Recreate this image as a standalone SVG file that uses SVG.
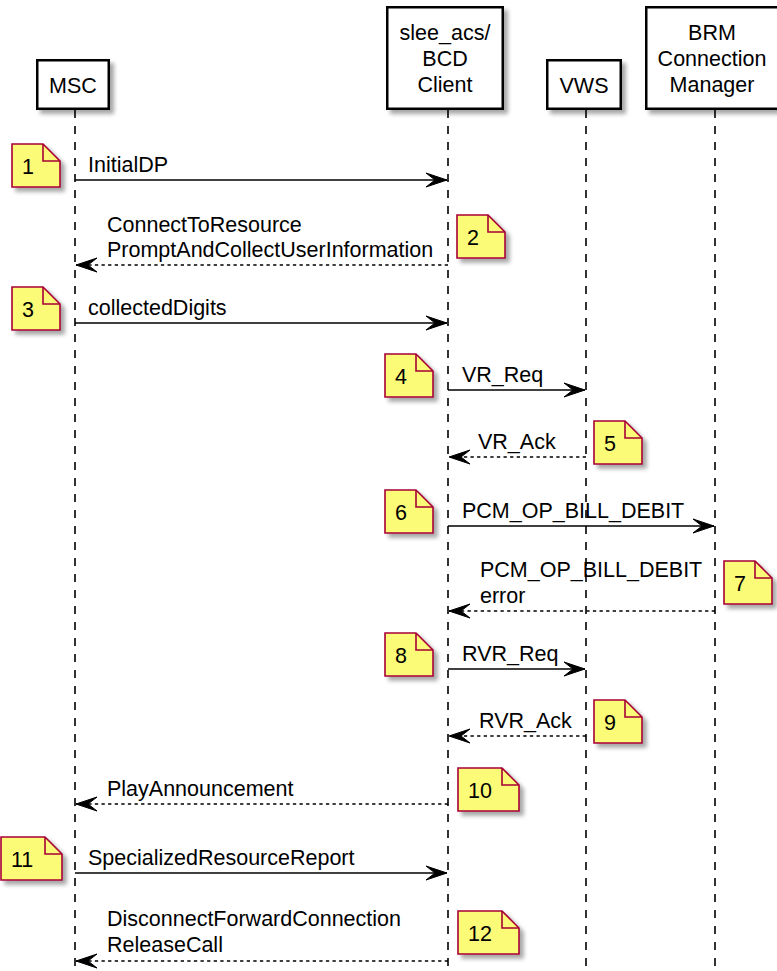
<svg xmlns="http://www.w3.org/2000/svg" width="777" height="971" viewBox="0 0 777 971">
<defs>
<filter id="sh" x="-20%" y="-20%" width="150%" height="150%">
<feGaussianBlur in="SourceAlpha" stdDeviation="2"/>
<feOffset dx="4" dy="4" result="o"/>
<feComponentTransfer><feFuncA type="linear" slope="0.35"/></feComponentTransfer>
<feMerge><feMergeNode/><feMergeNode in="SourceGraphic"/></feMerge>
</filter>
<marker id="ah" viewBox="-23 -8 24 16" refX="0" refY="0" markerWidth="24" markerHeight="16" markerUnits="userSpaceOnUse" orient="auto">
<path d="M0,0 L-21,-7 L-12,0 L-21,7 Z" fill="#000" stroke="#000" stroke-width="1" stroke-linejoin="miter"/>
</marker>
</defs>
<style>
text{font-family:"Liberation Sans",Arial,sans-serif;font-size:21.5px;fill:#000}
.box{fill:#fff;stroke:#000;stroke-width:2.5}
.pt{text-anchor:middle}
.life{stroke:#000;stroke-width:1.6;stroke-dasharray:8,8;fill:none}
.msg{stroke:#000;stroke-width:1.6;fill:none;marker-end:url(#ah)}
.ret{stroke-dasharray:3.3,3.3}
.note{fill:#FBFB77;stroke:#A80036;stroke-width:1.6;stroke-linejoin:miter}
.fold{fill:none;stroke:#A80036;stroke-width:1.6}
</style>
<rect width="777" height="971" fill="#fff"/>
<g id="lifelines">
<line class="life" x1="75" y1="110" x2="75" y2="971"/>
<line class="life" x1="448" y1="110" x2="448" y2="971"/>
<line class="life" x1="586" y1="110" x2="586" y2="971"/>
<line class="life" x1="715" y1="110" x2="715" y2="971"/>
</g>
<g id="MSC">
<rect class="box" x="37.25" y="60.25" width="71.5" height="48.5" filter="url(#sh)"/>
<text class="pt" x="73" y="92.5">MSC</text>
</g>
<g id="slee_acs">
<rect class="box" x="387.25" y="7.25" width="115.5" height="101.5" filter="url(#sh)"/>
<text class="pt" x="445" y="40">slee_acs/</text>
<text class="pt" x="445" y="66">BCD</text>
<text class="pt" x="445" y="92">Client</text>
</g>
<g id="VWS">
<rect class="box" x="547.25" y="60.25" width="73.5" height="48.5" filter="url(#sh)"/>
<text class="pt" x="584" y="92.5">VWS</text>
</g>
<g id="BRM">
<rect class="box" x="646.25" y="7.25" width="132" height="101.5" filter="url(#sh)"/>
<text class="pt" x="712" y="40">BRM</text>
<text class="pt" x="712" y="66">Connection</text>
<text class="pt" x="712" y="92">Manager</text>
</g>
<g id="connectors">
<line class="msg" x1="75" y1="180" x2="447" y2="180"/>
<text x="88" y="172">InitialDP</text>
<line class="msg ret" x1="448" y1="265" x2="76" y2="265"/>
<text x="107" y="232">ConnectToResource</text>
<text x="107" y="257">PromptAndCollectUserInformation</text>
<line class="msg" x1="75" y1="323" x2="447" y2="323"/>
<text x="88" y="315">collectedDigits</text>
<line class="msg" x1="448" y1="390" x2="585" y2="390"/>
<text x="462" y="382">VR_Req</text>
<line class="msg ret" x1="586" y1="457" x2="449" y2="457"/>
<text x="478" y="449">VR_Ack</text>
<line class="msg" x1="448" y1="526" x2="714" y2="526"/>
<text x="462" y="518">PCM_OP_BILL_DEBIT</text>
<line class="msg ret" x1="715" y1="611" x2="449" y2="611"/>
<text x="480" y="577">PCM_OP_BILL_DEBIT</text>
<text x="480" y="603">error</text>
<line class="msg" x1="448" y1="669" x2="585" y2="669"/>
<text x="462" y="661">RVR_Req</text>
<line class="msg ret" x1="586" y1="736" x2="449" y2="736"/>
<text x="479" y="728">RVR_Ack</text>
<line class="msg ret" x1="448" y1="804" x2="76" y2="804"/>
<text x="107" y="796">PlayAnnouncement</text>
<line class="msg" x1="75" y1="873" x2="447" y2="873"/>
<text x="88" y="865">SpecializedResourceReport</text>
<line class="msg ret" x1="448" y1="961" x2="76" y2="961"/>
<text x="107" y="926">DisconnectForwardConnection</text>
<text x="107" y="952">ReleaseCall</text>
</g>
<g id="note1"><path class="note" d="M12,144 H43 L60,161 V187 H12 Z" filter="url(#sh)"/><path class="fold" d="M43,144 V161 H60"/><text x="22" y="174">1</text></g>
<g id="note2"><path class="note" d="M457,215 H488 L505,232 V258 H457 Z" filter="url(#sh)"/><path class="fold" d="M488,215 V232 H505"/><text x="467" y="245">2</text></g>
<g id="note3"><path class="note" d="M12,287 H43 L60,304 V330 H12 Z" filter="url(#sh)"/><path class="fold" d="M43,287 V304 H60"/><text x="22" y="317">3</text></g>
<g id="note4"><path class="note" d="M385,354 H416 L433,371 V397 H385 Z" filter="url(#sh)"/><path class="fold" d="M416,354 V371 H433"/><text x="395" y="384">4</text></g>
<g id="note5"><path class="note" d="M594,421 H625 L642,438 V464 H594 Z" filter="url(#sh)"/><path class="fold" d="M625,421 V438 H642"/><text x="604" y="451">5</text></g>
<g id="note6"><path class="note" d="M385,490 H416 L433,507 V533 H385 Z" filter="url(#sh)"/><path class="fold" d="M416,490 V507 H433"/><text x="395" y="520">6</text></g>
<g id="note7"><path class="note" d="M724,561 H755 L772,578 V604 H724 Z" filter="url(#sh)"/><path class="fold" d="M755,561 V578 H772"/><text x="734" y="591">7</text></g>
<g id="note8"><path class="note" d="M385,633 H416 L433,650 V676 H385 Z" filter="url(#sh)"/><path class="fold" d="M416,633 V650 H433"/><text x="395" y="663">8</text></g>
<g id="note9"><path class="note" d="M594,700 H625 L642,717 V743 H594 Z" filter="url(#sh)"/><path class="fold" d="M625,700 V717 H642"/><text x="604" y="730">9</text></g>
<g id="note10"><path class="note" d="M458,768 H502 L519,785 V811 H458 Z" filter="url(#sh)"/><path class="fold" d="M502,768 V785 H519"/><text x="468" y="798">10</text></g>
<g id="note11"><path class="note" d="M1,837 H45 L62,854 V880 H1 Z" filter="url(#sh)"/><path class="fold" d="M45,837 V854 H62"/><text x="11" y="867">11</text></g>
<g id="note12"><path class="note" d="M458,911 H502 L519,928 V954 H458 Z" filter="url(#sh)"/><path class="fold" d="M502,911 V928 H519"/><text x="468" y="941">12</text></g>
</svg>
